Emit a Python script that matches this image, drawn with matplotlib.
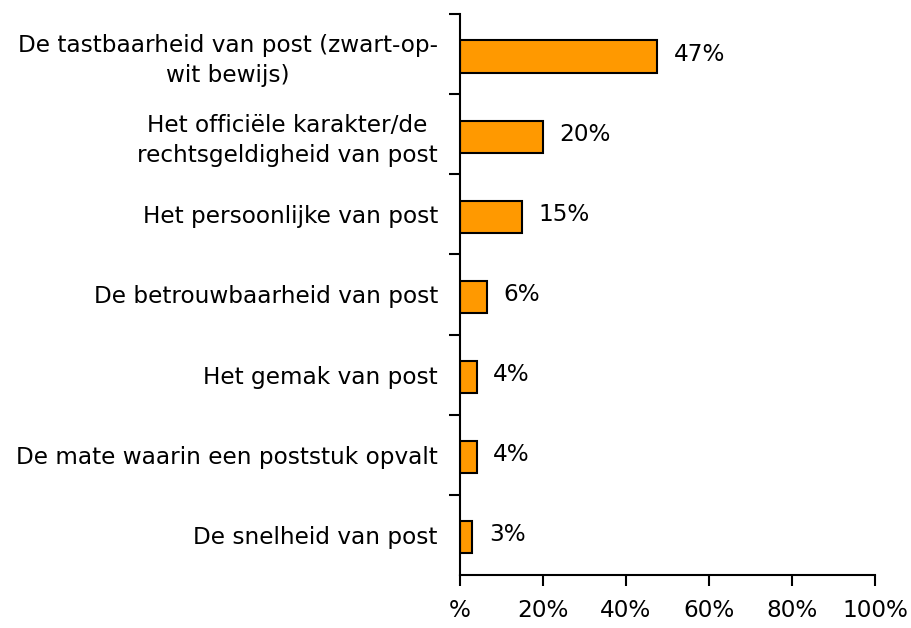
import matplotlib
matplotlib.use("Agg")
import matplotlib.pyplot as plt
from matplotlib.ticker import FixedLocator

categories = [
    "De tastbaarheid van post (zwart-op-\nwit bewijs)",
    "Het officiële karakter/de\nrechtsgeldigheid van post",
    "Het persoonlijke van post",
    "De betrouwbaarheid van post",
    "Het gemak van post",
    "De mate waarin een poststuk opvalt",
    "De snelheid van post",
]
values = [47.5, 20, 15, 6.5, 4, 4, 3]
value_labels = ["47%", "20%", "15%", "6%", "4%", "4%", "3%"]
x_ticks = [0, 20, 40, 60, 80, 100]
x_tick_labels = ["%", "20%", "40%", "60%", "80%", "100%"]

plt.rcParams['font.family'] = ['DejaVu Sans']
fs = 16.7

fig = plt.figure(figsize=(9.12, 6.28), dpi=100)
ax = fig.add_axes([460 / 912, 53 / 628, 415 / 912, 561 / 628])

n = len(categories)
ypos = list(range(n))[::-1]
ax.barh([y - 0.03 for y in ypos], values, height=0.4, color="#FF9900",
        edgecolor="black", linewidth=1.5)

for y, v, lab in zip(ypos, values, value_labels):
    ax.text(v + 4, y, lab, va="center", ha="left", fontsize=fs)

ax.set_xlim(0, 100)
ax.set_ylim(-0.5, n - 0.5)
ax.set_xticks(x_ticks)
ax.set_xticklabels(x_tick_labels, fontsize=fs)

# category labels centred on bars, tick marks between categories
ax.set_yticks(ypos)
ax.set_yticklabels(categories, fontsize=fs, multialignment="center", linespacing=1.4)
ax.yaxis.set_minor_locator(FixedLocator([i + 0.5 for i in range(n)]))
ax.tick_params(axis="y", which="major", length=0, pad=16)
ax.tick_params(axis="y", which="minor", length=8, width=1.5)
ax.tick_params(axis="x", length=8, width=1.5, pad=9)

for s in ["top", "right"]:
    ax.spines[s].set_visible(False)
for s in ["left", "bottom"]:
    ax.spines[s].set_linewidth(1.5)

fig.savefig("out.png", dpi=100)
